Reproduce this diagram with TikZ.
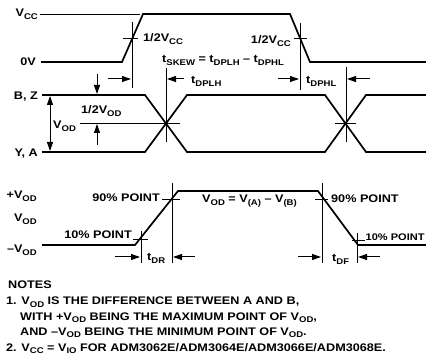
\documentclass[tikz,border=0pt]{standalone}
\usepackage{fontspec}
\setmainfont{Liberation Sans}[FakeStretch=1.15]
\usetikzlibrary{arrows.meta}
\newcommand{\sbs}[1]{\raisebox{-0.45ex}{\fontsize{8.3}{9}\selectfont #1}}

\begin{document}
\begin{tikzpicture}[x=1pt, y=-1pt,
  sig/.style={line width=1.7pt, line join=miter},
  guide/.style={line width=0.7pt},
  arr/.style={-{Triangle[length=9pt,width=6pt]}, line width=1pt},
  dblarr/.style={{Triangle[length=9pt,width=6pt]}-{Triangle[length=9pt,width=6pt]}, line width=1pt},
  lbl/.style={font=\bfseries\fontsize{11}{13}\selectfont, inner sep=0pt}]
  \useasboundingbox (0,0) rectangle (426,358);
  % Driver input (VCC / 0V)
  \draw[guide] (40,14) -- (140,14);
  \draw[sig] (41,62) -- (122,62) -- (143,14) -- (290,14) -- (310,62) -- (426,62);
  \node[lbl, anchor=base east] (vcc) at (38,16.5) {V\sbs{CC}};
  \node[lbl, anchor=base east] (zero) at (36,66) {0V};
  % Half-swing markers on the input
  \draw[guide] (132,22) -- (132,88);
  \draw[guide] (123,38) -- (138,38);
  \draw[guide] (300,23) -- (300,90);
  \draw[guide] (294,38) -- (307,38);
  \node[lbl, anchor=base west] (halfl) at (143,42) {1/2V\sbs{CC}};
  \node[lbl, anchor=base east] (halfr) at (291,44) {1/2V\sbs{CC}};
  \node[lbl, anchor=base west] (skew) at (162,63) {t\sbs{SKEW} = t\sbs{DPLH} – t\sbs{DPHL}};
  % Propagation delays
  \draw[guide] (166,68) -- (166,142);
  \draw[guide] (346,67) -- (346,142);
  \draw[arr] (108,79) -- (131,79);
  \draw[arr] (184,79) -- (167,79);
  \node[lbl, anchor=base west] (dplh) at (191,83.5) {t\sbs{DPLH}};
  \draw[arr] (278,79) -- (299,79);
  \draw[arr] (370,79) -- (347,79);
  \node[lbl, anchor=base west] (dphl) at (306,83.5) {t\sbs{DPHL}};
  % Differential outputs
  \draw[sig] (42,95) -- (145,95) -- (187,152) -- (325,152) -- (366,95) -- (426,95);
  \draw[sig] (42,152) -- (145,152) -- (187,95) -- (325,95) -- (366,152) -- (426,152);
  \node[lbl, anchor=base east] (bz) at (38,100) {B, Z};
  \node[lbl, anchor=base east] (ya) at (38,157) {Y, A};
  \draw[guide] (80,123) -- (180,123);
  \draw[guide] (335,123) -- (356,123);
  \draw[dblarr] (50,96) -- (50,151);
  \node[lbl, anchor=base west] (vod) at (53,128.5) {V\sbs{OD}};
  \draw[arr] (97,74) -- (97,94);
  \draw[arr] (97,145) -- (97,124);
  \node[lbl, anchor=base west] (halfod) at (81,114) {1/2V\sbs{OD}};
  % Differential voltage
  \draw[sig] (42,245) -- (135,245) -- (178,191) -- (318,191) -- (358,245) -- (426,245);
  \node[lbl, anchor=base east] (pvod) at (37,199) {+V\sbs{OD}};
  \node[lbl, anchor=base east] (mvod) at (37,222) {V\sbs{OD}};
  \node[lbl, anchor=base east] (nvod) at (37,253) {–V\sbs{OD}};
  \node[lbl, anchor=base west] (vdef) at (202,203) {V\sbs{OD} = V\sbs{(A)} – V\sbs{(B)}};
  % 10% / 90% points
  \draw[guide] (141,231) -- (141,263);
  \draw[guide] (172,183) -- (172,263);
  \draw[guide] (322,183) -- (322,263);
  \draw[guide] (357,233) -- (357,263);
  \draw[guide] (133,239) -- (148,239);
  \draw[guide] (162,199) -- (180,199);
  \draw[guide] (315,199) -- (328,199);
  \draw[guide] (352,240) -- (365,240);
  \node[lbl, anchor=base east] (lninety) at (160,202) {90\% POINT};
  \node[lbl, anchor=base east] (lten) at (132,238.5) {10\% POINT};
  \node[lbl, anchor=base west] (rninety) at (331,203) {90\% POINT};
  \node[lbl, anchor=base west, font=\bfseries\fontsize{9.6}{11}\selectfont] (rten) at (365.5,240.5) {10\% POINT};
  % Rise and fall times
  \draw[arr] (115,257) -- (140,257);
  \draw[arr] (195,257) -- (173,257);
  \node[lbl, anchor=base west] (tdr) at (147,261) {t\sbs{DR}};
  \draw[arr] (298,257) -- (321,257);
  \draw[arr] (380,257) -- (358,257);
  \node[lbl, anchor=base west] (tdf) at (332,262) {t\sbs{DF}};
  % Notes
  \node[lbl, anchor=base west] (notes) at (8,289) {NOTES};
  \node[lbl, anchor=base west] (noteA) at (6,305) {1. V\sbs{OD} IS THE DIFFERENCE BETWEEN A AND B,};
  \node[lbl, anchor=base west] (noteB) at (20,320) {WITH +V\sbs{OD} BEING THE MAXIMUM POINT OF V\sbs{OD},};
  \node[lbl, anchor=base west] (noteC) at (20,335) {AND –V\sbs{OD} BEING THE MINIMUM POINT OF V\sbs{OD}.};
  \node[lbl, anchor=base west] (noteD) at (6,351) {2. V\sbs{CC} = V\sbs{IO} FOR ADM3062E/ADM3064E/ADM3066E/ADM3068E.};
\end{tikzpicture}
\end{document}
